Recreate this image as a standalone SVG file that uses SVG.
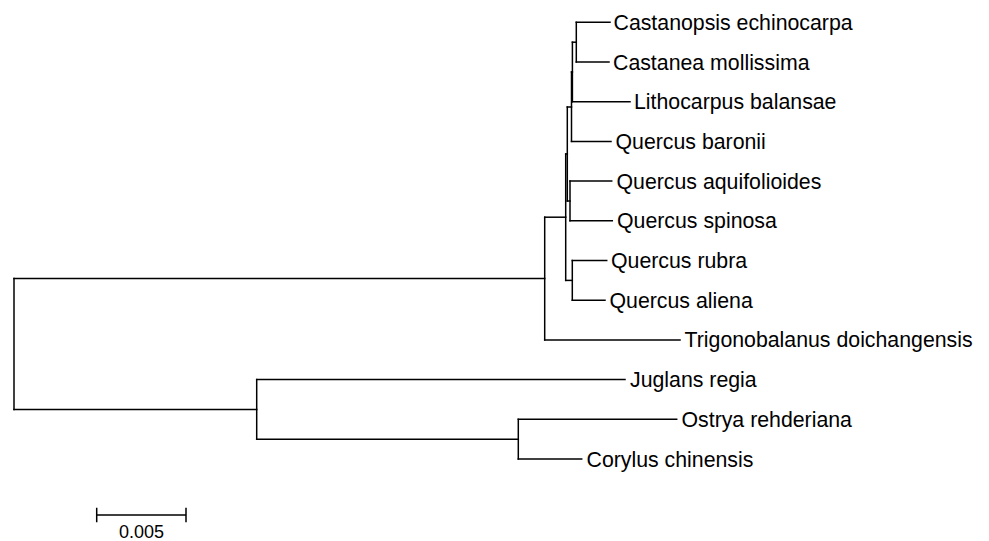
<svg xmlns="http://www.w3.org/2000/svg" width="989" height="541" viewBox="0 0 989 541">
<style>
.br{fill:none;stroke:#000;stroke-width:1.5;stroke-linecap:square}
.tx{font-family:"Liberation Sans",Arial,sans-serif;font-size:21.3px;fill:#000}
.sc{font-family:"Liberation Sans",Arial,sans-serif;font-size:18px;fill:#000}
</style>
<rect width="989" height="541" fill="#fff"/>
<g id="connectors" class="br">
<path d="M14,278.5 V409.4"/>
<path d="M14,278.5 H544.7"/>
<path d="M14,409.4 H256.7"/>
<path d="M544.7,217.2 V339.9"/>
<path d="M544.7,217.2 H565.7"/>
<path d="M544.7,339.9 H680"/>
<path d="M565.7,154 V280.4"/>
<path d="M565.7,280.4 H572.3"/>
<path d="M572.3,260.5 V300.2"/>
<path d="M572.3,260.5 H606.7"/>
<path d="M572.3,300.2 H605"/>
<path d="M565.7,154 H567.3"/>
<path d="M567.3,107 V201"/>
<path d="M567.3,201 H570"/>
<path d="M570,181.1 V220.8"/>
<path d="M570,181.1 H611.7"/>
<path d="M570,220.8 H612.3"/>
<path d="M567.3,107 H571.5"/>
<path d="M571.5,72 V141.4"/>
<path d="M571.5,141.4 H611"/>
<path d="M571.5,72 H572.4"/>
<path d="M572.4,42.2 V101.7"/>
<path d="M572.4,101.7 H630"/>
<path d="M572.4,42.2 H576.3"/>
<path d="M576.3,22.3 V62"/>
<path d="M576.3,22.3 H610"/>
<path d="M576.3,62 H609"/>
<path d="M256.7,379.6 V439.2"/>
<path d="M256.7,379.6 H625"/>
<path d="M256.7,439.2 H518.3"/>
<path d="M518.3,419.3 V459"/>
<path d="M518.3,419.3 H676.7"/>
<path d="M518.3,459 H581.7"/>
</g>
<g id="tip-castanopsis"><text class="tx" x="613.5" y="29.8">Castanopsis echinocarpa</text></g>
<g id="tip-castanea"><text class="tx" x="613" y="69.5">Castanea mollissima</text></g>
<g id="tip-lithocarpus"><text class="tx" x="634" y="109.2">Lithocarpus balansae</text></g>
<g id="tip-baronii"><text class="tx" x="615.5" y="148.9">Quercus baronii</text></g>
<g id="tip-aquifolioides"><text class="tx" x="616.5" y="188.6">Quercus aquifolioides</text></g>
<g id="tip-spinosa"><text class="tx" x="617" y="228.3">Quercus spinosa</text></g>
<g id="tip-rubra"><text class="tx" x="611" y="268">Quercus rubra</text></g>
<g id="tip-aliena"><text class="tx" x="609.5" y="307.7">Quercus aliena</text></g>
<g id="tip-trigonobalanus"><text class="tx" x="684.5" y="347.4">Trigonobalanus doichangensis</text></g>
<g id="tip-juglans"><text class="tx" x="630" y="387.1">Juglans regia</text></g>
<g id="tip-ostrya"><text class="tx" x="681.5" y="426.8">Ostrya rehderiana</text></g>
<g id="tip-corylus"><text class="tx" x="586.5" y="466.5">Corylus chinensis</text></g>
<g id="scale-bar">
<path class="br" d="M96.7,515 H186 M96.7,508.5 V521.5 M186,508.5 V521.5"/>
<text class="sc" x="141.5" y="537.5" text-anchor="middle">0.005</text>
</g>
</svg>
